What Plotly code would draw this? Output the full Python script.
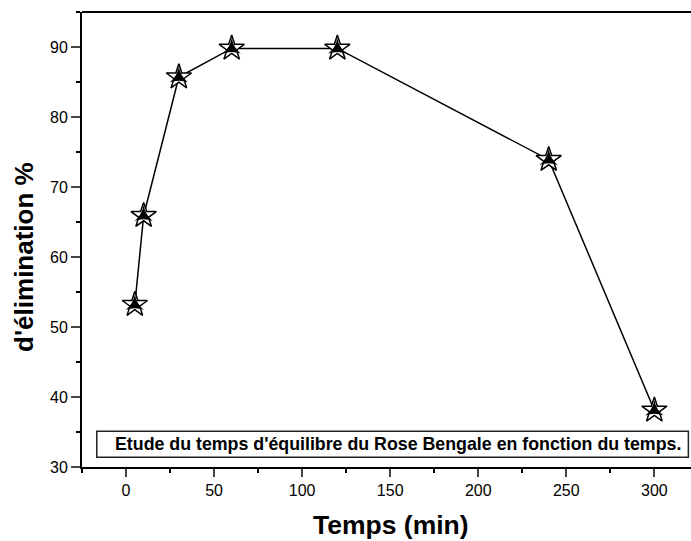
import plotly.graph_objects as go

temps = [5, 10, 30, 60, 120, 240, 300]
elimination = [53.2, 65.9, 85.7, 89.8, 89.8, 73.9, 38.1]
x_ticks = [0, 50, 100, 150, 200, 250, 300]
y_ticks = [30, 40, 50, 60, 70, 80, 90]
legend_text = "Etude du temps d'équilibre du Rose Bengale en fonction du temps."

FONT = "Arial, Liberation Sans, sans-serif"

fig = go.Figure()
fig.add_trace(go.Scatter(
    x=temps, y=elimination, mode="lines",
    line=dict(color="black", width=1.5),
    showlegend=False, hoverinfo="skip",
))
fig.add_trace(go.Scatter(
    x=temps, y=elimination, mode="markers",
    marker=dict(symbol="star", size=19, color="white",
                line=dict(color="black", width=1.5)),
    showlegend=False,
))
fig.add_trace(go.Scatter(
    x=temps, y=elimination, mode="markers",
    marker=dict(symbol="star-triangle-up", size=13, color="black",
                line=dict(color="black", width=0)),
    showlegend=False, hoverinfo="skip",
))

fig.add_shape(type="rect", xref="x", yref="y", x0=-16.6, x1=319.3, y0=31.4, y1=35.1,
              line=dict(color="#222", width=1.5), fillcolor="white", layer="below")
fig.add_shape(type="line", xref="paper", yref="paper", x0=0, x1=1, y0=1, y1=1,
              line=dict(color="black", width=2))
fig.add_annotation(x=(-16.6 + 319.3) / 2 + 3, y=33.25, xref="x", yref="y", text=legend_text,
                   showarrow=False, font=dict(family=FONT, size=17.8, color="black", weight="bold"))

fig.add_annotation(x=(390.5 - 82) / 609, y=0, xref="paper", yref="paper", yshift=-58,
                   text="Temps (min)", showarrow=False, xanchor="center", yanchor="middle",
                   font=dict(family=FONT, size=26.5, color="black", weight="bold"))
fig.add_annotation(x=0, y=(467.5 - 257) / 456, xref="paper", yref="paper", xshift=24 - 82,
                   text="d'élimination %", textangle=-90, showarrow=False,
                   xanchor="center", yanchor="middle",
                   font=dict(family=FONT, size=26, color="black", weight="bold"))

fig.update_layout(
    width=691, height=541,
    margin=dict(l=82, r=0, t=11.5, b=73.5),
    paper_bgcolor="white", plot_bgcolor="white",
    font=dict(family=FONT, size=16, color="black"),
    xaxis=dict(range=[-25, 320.8], tickvals=x_ticks, ticks="outside", ticklen=8, tickwidth=1.5,
               showline=True, linewidth=2, linecolor="black", mirror=False, showgrid=False,
               zeroline=False, tickfont=dict(size=16),
               minor=dict(dtick=25, tick0=0, ticks="outside", ticklen=4, tickwidth=1.5, tickcolor="black")),
    yaxis=dict(range=[30, 95], tickvals=y_ticks, ticks="outside", ticklen=9, tickwidth=1.5,
               showline=True, linewidth=2, linecolor="black", mirror=False, showgrid=False, zeroline=False,
               tickfont=dict(size=16),
               minor=dict(dtick=5, tick0=0, ticks="outside", ticklen=4, tickwidth=1.5, tickcolor="black")),
)

fig.write_html("out.html")
